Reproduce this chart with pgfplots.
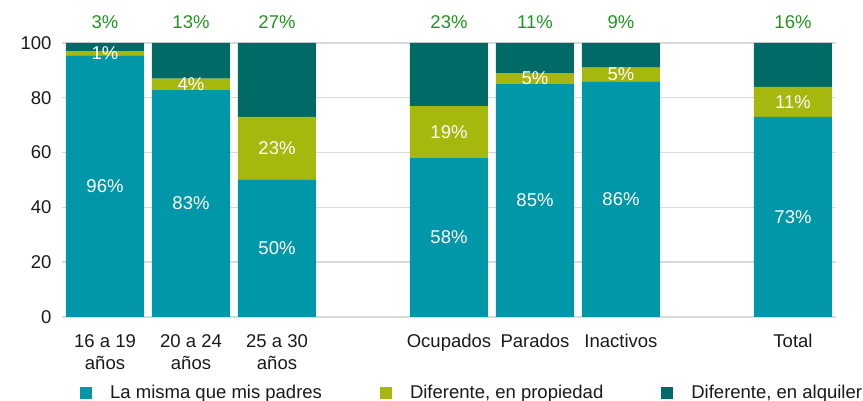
\documentclass[border=0pt]{standalone}
\usepackage{fontspec}
\setmainfont{Liberation Sans}
\usepackage{pgfplots}
\pgfplotsset{compat=1.18}
\definecolor{cteal}{HTML}{0097A9}
\definecolor{colive}{HTML}{A6B70D}
\definecolor{cdark}{HTML}{006A66}
\definecolor{cgreen}{HTML}{1F961F}
\definecolor{cgrid}{HTML}{D9D9D9}
\definecolor{ctext}{HTML}{1A1A1A}
\begin{document}
\fontsize{9.25}{10.8}\selectfont
\begin{tikzpicture}
\useasboundingbox (-31pt,-42pt) rectangle (400.5pt,158.5pt);
\pgfplotsset{
  base/.style={scale only axis, width=387pt, height=137pt,
    xmin=-0.5, xmax=8.5, ymin=0, ymax=100,
    at={(0pt,0pt)}, anchor=south west},
}
\begin{axis}[base, ybar stacked, bar width=39pt,
  axis line style={draw=none}, major tick length=0pt,
  ymajorgrids, grid style={cgrid, line width=0.7pt},
  ytick={0,20,...,100},
  xtick={0,1,2,4,5,6,8},
  xticklabels={{16 a 19\\años},{20 a 24\\años},{25 a 30\\años},Ocupados,Parados,Inactivos,Total},
  xticklabel style={align=center, yshift=-5.5pt, text=ctext, font=\fontsize{9.25}{10.8}\selectfont},
  yticklabel style={xshift=-2pt, text=ctext, font=\fontsize{9.25}{10.8}\selectfont},
  /pgf/number format/assume math mode=true,
  legend style={at={(axis description cs:0.023,-0.278)}, anchor=west, draw=none,
    inner sep=0pt, legend columns=3, font=\fontsize{9.25}{10.8}\selectfont, text=ctext,
    /tikz/every odd column/.append style={column sep=7pt},
    /tikz/every even column/.append style={column sep=27pt}},
  legend cell align=left,
  legend image code/.code={\fill[#1] (0pt,-3pt) rectangle (6pt,3pt);},
]
\addplot[fill=cteal, draw=none] coordinates {(0,95.5) (1,83) (2,50) (4,58) (5,85) (6,86) (8,73)};
\addplot[fill=colive, draw=none] coordinates {(0,1.5) (1,4) (2,23) (4,19) (5,4) (6,5) (8,11)};
\addplot[fill=cdark, draw=none] coordinates {(0,3) (1,13) (2,27) (4,23) (5,11) (6,9) (8,16)};
\legend{La misma que mis padres, {Diferente, en propiedad}, {Diferente, en alquiler}}
\end{axis}
\begin{axis}[base, hide axis, clip=false,
  nodes near coords, point meta=explicit symbolic,
  every node near coord/.append style={anchor=center, font=\fontsize{9.25}{10.8}\selectfont}]
\addplot[draw=none, mark=none, every node near coord/.append style={text=white}] coordinates {
  (0,47.75) [96\%] (1,41.5) [83\%] (2,25) [50\%] (4,29) [58\%] (5,42.5) [85\%] (6,43) [86\%] (8,36.5) [73\%]
  (0,96.25) [1\%] (1,85) [4\%] (2,61.5) [23\%] (4,67.5) [19\%] (5,87) [5\%] (6,88.5) [5\%] (8,78.5) [11\%]};
\addplot[draw=none, mark=none, every node near coord/.append style={text=cgreen}] coordinates {
  (0,107.7) [3\%] (1,107.7) [13\%] (2,107.7) [27\%] (4,107.7) [23\%] (5,107.7) [11\%] (6,107.7) [9\%] (8,107.7) [16\%]};
\end{axis}
\end{tikzpicture}
\end{document}
